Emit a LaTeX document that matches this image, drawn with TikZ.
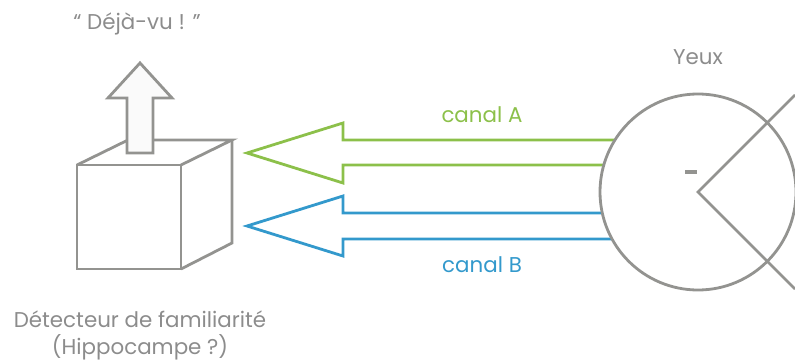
\documentclass[tikz,border=0pt]{standalone}
\usepackage{fontspec}
\setmainfont{Poppins}
\usepackage{tikz}
\usetikzlibrary{positioning}
\definecolor{greyline}{HTML}{939390}
\definecolor{greytext}{HTML}{8C8C8C}
\definecolor{canalA}{HTML}{8CC04A}
\definecolor{canalB}{HTML}{3399CC}
\tikzstyle{label}=[font=\fontsize{10.7}{13.5}\selectfont,inner sep=0pt,align=center]
\tikzstyle{outline}=[line width=1.4pt,line join=miter]

\begin{document}
\begin{tikzpicture}[x=0.5pt,y=-0.5pt]
\useasboundingbox (0,0) rectangle (795,363);
    % cube
    \draw [outline,greyline] (77,165) rectangle (181,269);
    \draw [outline,greyline] (77,165) -- (128,140) -- (232,140) -- (181,165);
    \draw [outline,greyline] (181,269) -- (232,243) -- (232,140);
    \draw [outline,greyline,fill=black!2] (127,153) -- (127,98) -- (108,98) -- (140,63)
      -- (172,98) -- (153,98) -- (153,153) -- cycle;

    % channels
    \draw [outline,canalA] (650,140) -- (343,140) -- (343,123) -- (247,153)
      -- (343,183) -- (343,165) -- (650,165);
    \draw [outline,canalB] (650,213) -- (343,213) -- (343,196) -- (247,226)
      -- (343,256) -- (343,239) -- (650,239);

    % eye
    \node [outline,draw=greyline,fill=white,circle,minimum size=98pt,inner sep=0pt] (eye) at (698,192) {};
    \coordinate (up) at (795,95);
    \coordinate (down) at (795,289);
    \draw [outline,greyline] (up) -- (eye.center) -- (down);
    \draw [line width=1.6pt,greyline] (685,172) -- (697,172);

    \node [label,greytext] (dejavu) at (137,24) {“ Déjà-vu ! ”};
    \node [label,greytext] (yeux) at (698,57) {Yeux};
    \node [label,canalA] (a) at (482,115) {canal A};
    \node [label,canalB] (b) at (482,265) {canal B};
    \node [label,greytext] (det) at (140,335) {Détecteur de familiarité\\(Hippocampe ?)};
\end{tikzpicture}
\end{document}
